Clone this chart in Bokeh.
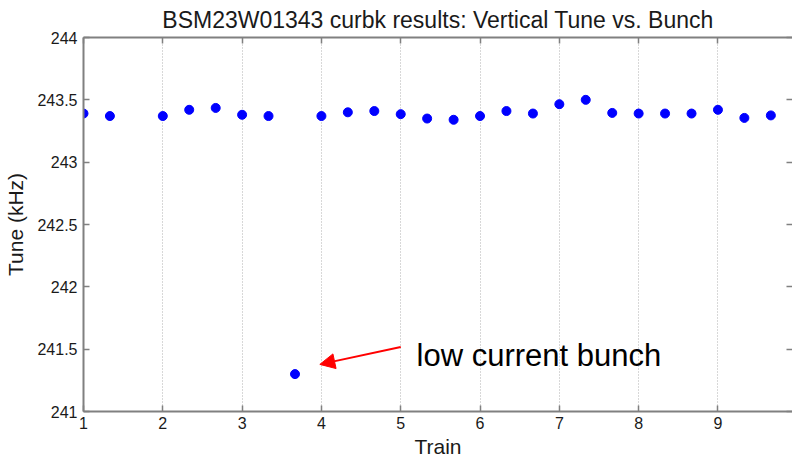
from bokeh.plotting import figure
from bokeh.models import LinearAxis, Range1d, Arrow, NormalHead, Label, FixedTicker, CustomJSTickFormatter
from bokeh.embed import file_html
from bokeh.resources import INLINE

# ---- data ----
trains = [1.0, 1.333, 2.0, 2.333, 2.667, 3.0, 3.333, 3.667, 4.0, 4.333, 4.667,
          5.0, 5.333, 5.667, 6.0, 6.333, 6.667, 7.0, 7.333, 7.667, 8.0, 8.333,
          8.667, 9.0, 9.333, 9.667]
tunes = [243.39, 243.37, 243.37, 243.42, 243.435, 243.38, 243.37, 241.30, 243.37,
         243.40, 243.41, 243.385, 243.35, 243.34, 243.37, 243.41, 243.39, 243.465,
         243.50, 243.395, 243.39, 243.39, 243.39, 243.42, 243.355, 243.375]
x_ticks = [1, 2, 3, 4, 5, 6, 7, 8, 9]
y_ticks = [241, 241.5, 242, 242.5, 243, 243.5, 244]
y_tick_labels = ["241", "241.5", "242", "242.5", "243", "243.5", "244"]
title_text = "BSM23W01343 curbk results: Vertical Tune vs. Bunch"
x_label = "Train"
y_label = "Tune (kHz)"
note_text = "low current bunch"
note_pos = (5.2, 241.45)
arrow_tail = (5.0, 241.517)
arrow_tip = (3.98, 241.378)
x_range = (1, 9.94)
y_range = (241, 244)

FONT = "Liberation Sans"
AXIS_COLOR = "#808080"
TEXT_COLOR = "#1a1a1a"

p = figure(width=792, height=460, x_range=Range1d(*x_range), y_range=Range1d(*y_range),
           output_backend="svg", toolbar_location=None,
           min_border_left=83, min_border_right=0, min_border_top=37, min_border_bottom=49)
p.background_fill_color = "white"
p.border_fill_color = "white"
p.outline_line_color = None

p.title.text = title_text
p.title.text_font = FONT
p.title.text_font_size = "23px"
p.title.text_font_style = "normal"
p.title.text_color = TEXT_COLOR
p.title.align = "center"
p.title.standoff = 9

def style_axis(ax):
    ax.axis_line_color = AXIS_COLOR
    ax.axis_line_width = 2
    ax.major_tick_line_color = AXIS_COLOR
    ax.major_tick_line_width = 1.5
    ax.major_tick_in = 6
    ax.major_tick_out = 0
    ax.minor_tick_line_color = None
    ax.major_label_text_font = FONT
    ax.major_label_text_color = TEXT_COLOR
    ax.axis_label_text_font = FONT
    ax.axis_label_text_font_style = "normal"
    ax.axis_label_text_color = TEXT_COLOR

xa = p.xaxis[0]
style_axis(xa)
xa.ticker = FixedTicker(ticks=x_ticks)
xa.major_label_text_font_size = "16px"
xa.major_label_standoff = 5
xa.axis_label = x_label
xa.axis_label_text_font_size = "21px"
xa.axis_label_standoff = 3

ya = p.yaxis[0]
style_axis(ya)
ya.ticker = FixedTicker(ticks=y_ticks)
ya.major_label_overrides = {t: l for t, l in zip(y_ticks, y_tick_labels)}
ya.major_label_text_font_size = "16px"
ya.major_label_standoff = 6
ya.axis_label = y_label
ya.axis_label_text_font_size = "21px"
ya.axis_label_standoff = 7

# box top edge with inward ticks, no labels
top = LinearAxis(ticker=FixedTicker(ticks=x_ticks), formatter=CustomJSTickFormatter(code="return ''"))
style_axis(top)
top.major_label_standoff = 0
top.major_label_text_font_size = "1px"
p.add_layout(top, "above")

# right edge (cropped in the picture): only the inward tick marks show
right = LinearAxis(ticker=FixedTicker(ticks=y_ticks), formatter=CustomJSTickFormatter(code="return ''"))
style_axis(right)
right.axis_line_color = None
right.major_label_standoff = 0
right.major_label_text_font_size = "1px"
p.add_layout(right, "right")

p.ygrid.grid_line_color = None
p.xgrid.ticker = FixedTicker(ticks=x_ticks)
p.xgrid.grid_line_color = "#b0b0b0"
p.xgrid.grid_line_dash = "1 2"
p.xgrid.grid_line_width = 1

p.scatter(trains, tunes, size=9, fill_color="#0000ff", line_color="#0000ff")

p.add_layout(Arrow(x_start=arrow_tail[0], y_start=arrow_tail[1], x_end=arrow_tip[0], y_end=arrow_tip[1],
                   line_color="#ff0000", line_width=2,
                   end=NormalHead(size=15, fill_color="#ff0000", line_color="#ff0000")))
p.add_layout(Label(x=note_pos[0], y=note_pos[1], text=note_text, text_font=FONT,
                   text_font_size="31px", text_color="#000000", text_baseline="alphabetic"))

open("out.html", "w").write(file_html(p, INLINE))
